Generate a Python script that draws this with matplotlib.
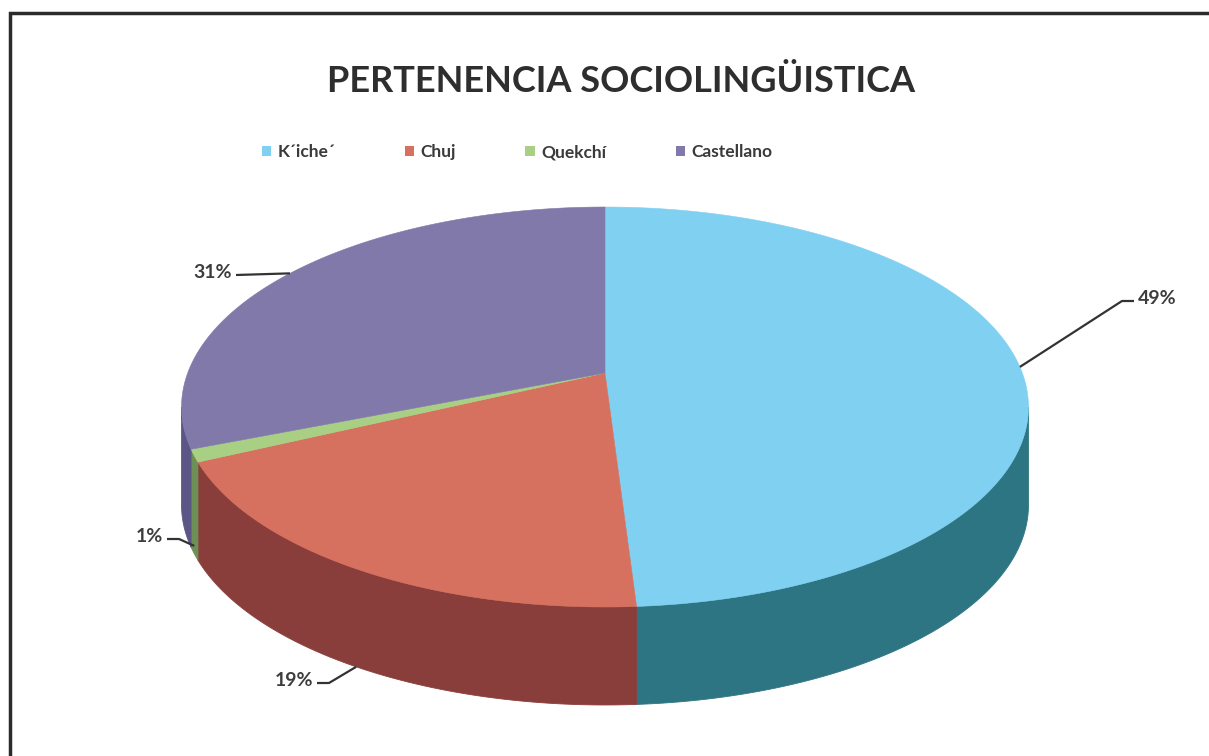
import numpy as np
import matplotlib
matplotlib.use("Agg")
import matplotlib.pyplot as plt
from matplotlib.patches import Polygon, Patch
from matplotlib.lines import Line2D

# ---- data ----
categories = ["K\u00b4iche\u00b4", "Chuj", "Quekch\u00ed", "Castellano"]
values = [49, 19, 1, 31]
labels = ["49%", "19%", "1%", "31%"]
top_colors = ["#80D0F2", "#D6705F", "#A9CF84", "#8079AA"]
side_colors = ["#2E7584", "#8A3E3B", "#6E8F55", "#5B5685"]

W, H = 1209, 756
fig = plt.figure(figsize=(W / 100, H / 100), dpi=100)
fig.patch.set_facecolor("white")

# frame (only top and left visible in the scan)
fig.add_artist(Line2D([10 / W, 10 / W, 1.0], [0.0, 1 - 13 / H, 1 - 13 / H],
                      transform=fig.transFigure, color="#2b2b2b", linewidth=2.5,
                      solid_joinstyle="miter"))

ax = fig.add_axes([0, 0, 1, 1])
ax.set_xlim(0, W)
ax.set_ylim(H, 0)
ax.axis("off")

# perspective geometry of the pie (layout)
CX, CY = 605, 373          # apex of the slices (pixels, y downwards)
A, B, K = 417.3, 194.2, 0.17
DEPTH = 98

def persp(t_deg):
    t = np.radians(t_deg)
    u, v = np.cos(t), np.sin(t)
    w = 1 + K * v
    return CX + A * u / w, CY - B * v / w

# slice angles from the data (start at 12 o'clock, clockwise)
fr = np.array(values, float) / np.sum(values)
starts = 90 - 360 * np.concatenate([[0], np.cumsum(fr)[:-1]])
ends = starts - 360 * fr
mids = (starts + ends) / 2

# visible front wall range (between silhouette points)
vis_lo = 180 + np.degrees(np.arcsin(K))
vis_hi = 360 - np.degrees(np.arcsin(K))

for s, e, c in zip(starts, ends, side_colors):
    lo, hi = e % 360, s % 360
    if hi <= lo:
        hi += 360
    for off in (0, 360, -360):
        a, b = max(lo + off, vis_lo), min(hi + off, vis_hi)
        if b > a:
            xs, ys = persp(np.linspace(a, b, 150))
            verts = np.concatenate([np.column_stack([xs, ys]),
                                    np.column_stack([xs[::-1], ys[::-1] + DEPTH])])
            ax.add_patch(Polygon(verts, closed=True, facecolor=c, edgecolor=c,
                                 linewidth=0.6, zorder=1))

# top faces
for s, e, c in zip(starts, ends, top_colors):
    xs, ys = persp(np.linspace(s, e, 240))
    verts = np.concatenate([[[CX, CY]], np.column_stack([xs, ys])])
    ax.add_patch(Polygon(verts, closed=True, facecolor=c, edgecolor=c,
                         linewidth=0.4, zorder=2))

# labels with leader lines
label_pos = [(1138, 298, "left"), (313, 680, "right"), (163, 536, "right"), (232, 272, "right")]
drop = [0, DEPTH, DEPTH * 0.92, 0]
elbows = [12, 12, 12, 0]
for i, (lx, ly, ha) in enumerate(label_pos):
    axp, ayp = persp(mids[i])
    ayp = ayp + drop[i]
    sgn = -1 if ha == "left" else 1
    x0 = lx + sgn * 4
    ax.plot([axp, x0 + sgn * elbows[i], x0], [ayp, ly + 3, ly + 3],
            color="#333333", linewidth=1.6, zorder=3, solid_capstyle="butt")
    ax.text(lx, ly, labels[i], ha=ha, va="center", fontsize=14, fontweight="bold",
            color="#3d3d3d", family="Lato", zorder=4)

# title
fig.text(621 / W, 1 - 82 / H, "PERTENENCIA SOCIOLING\u00dcISTICA", ha="center", va="center",
         fontsize=26, fontweight="bold", color="#2e2e2e", family="Lato")

# legend
handles = [Patch(facecolor=c, edgecolor="none") for c in top_colors]
leg = fig.legend(handles, categories, loc="center", bbox_to_anchor=(517 / W, 1 - 152 / H),
                 ncol=4, frameon=False, handlelength=0.55, handleheight=0.55,
                 handletextpad=0.35, columnspacing=4.0,
                 prop=dict(family="Lato", weight="bold", size=12.5))
for t in leg.get_texts():
    t.set_color("#3a3a3a")

fig.savefig("out.png", dpi=100, facecolor="white")
